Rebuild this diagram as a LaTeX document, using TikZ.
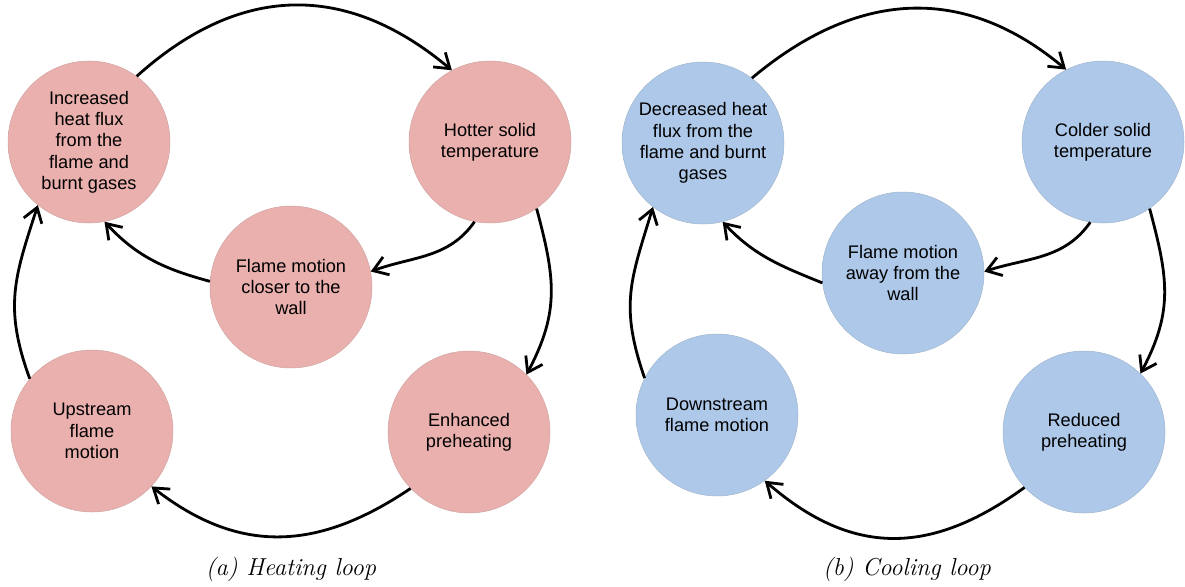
\documentclass[tikz,border=0pt]{standalone}
\usepackage{fontspec}
\newfontfamily\arialf{Liberation Sans}
\usetikzlibrary{arrows.meta}
\definecolor{pinkc}{RGB}{234,176,174}
\definecolor{bluec}{RGB}{173,200,232}
\colorlet{pinkedge}{pinkc!78!black}
\colorlet{blueedge}{bluec!78!black}
\pgfdeclareradialshading{pinkball}{\pgfpoint{0bp}{0bp}}{color(0bp)=(pinkc); color(42bp)=(pinkc); color(47.5bp)=(pinkc!93!black); color(50bp)=(pinkedge)}
\pgfdeclareradialshading{blueball}{\pgfpoint{0bp}{0bp}}{color(0bp)=(bluec); color(42bp)=(bluec); color(47.5bp)=(bluec!93!black); color(50bp)=(blueedge)}
\tikzset{
  bub/.style={circle, minimum size=162pt, inner sep=0pt, align=center,
    font=\arialf\fontsize{18.2}{21.3}\selectfont, line width=0.5pt},
  pinkbub/.style={bub, shading=pinkball, draw=pinkc!75!gray},
  bluebub/.style={bub, shading=blueball, draw=bluec!75!gray},
  conn/.style={line width=2.8pt, -{Straight Barb[length=14pt,width=19pt]}},
  captxt/.style={font=\fontsize{24.5}{29}\selectfont\itshape, inner sep=0pt}
}
\begin{document}
\begin{tikzpicture}[x=1pt,y=1pt]
\useasboundingbox (0,0) rectangle (1185,-586);
% (a) Heating loop
\node[pinkbub] (inc) at (89,-142) {Increased\\heat flux\\from the\\flame and\\burnt gases};
\node[pinkbub] (hot) at (490,-142) {Hotter solid\\temperature};
\node[pinkbub] (clo) at (291,-287) {Flame motion\\closer to the\\wall};
\node[pinkbub] (ups) at (92,-431) {Upstream\\flame\\motion};
\node[pinkbub] (enh) at (469,-432) {Enhanced\\preheating};
\draw[conn] (inc.54) to[out=42,in=140,looseness=1.12] (hot.118);
\draw[conn] (hot.-101) to[out=-125,in=20] (clo.11);
\draw[conn] (clo.176) to[out=165,in=-47] (inc.-79);
\draw[conn] (hot.-55) to[out=-75,in=62,looseness=1.1] (enh.45);
\draw[conn] (enh.-136) to[out=-146,in=-38,looseness=1.1] (ups.-43);
\draw[conn] (ups.140) to[out=110,in=-108,looseness=1.12] (inc.-129);
\node[captxt] (capa) at (291,-569) {(a) Heating loop};
% (b) Cooling loop
\node[bluebub] (dec) at (703,-143) {Decreased heat\\flux from the\\flame and burnt\\gases};
\node[bluebub] (col) at (1103,-142) {Colder solid\\temperature};
\node[bluebub] (awy) at (903,-273) {Flame motion\\away from the\\wall};
\node[bluebub] (dwn) at (717,-415) {Downstream\\flame motion};
\node[bluebub] (red) at (1084,-432) {Reduced\\preheating};
\draw[conn] (dec.53) to[out=40,in=140,looseness=1.1] (col.117);
\draw[conn] (col.-99) to[out=-125,in=18] (awy.1);
\draw[conn] (awy.-173) to[out=158,in=-47] (dec.-76);
\draw[conn] (col.-55) to[out=-75,in=62,looseness=1.1] (red.46);
\draw[conn] (red.-137) to[out=-144,in=-41,looseness=1.14] (dwn.-54);
\draw[conn] (dwn.153) to[out=109,in=-107,looseness=1.15] (dec.-128);
\node[captxt] (capb) at (907,-569) {(b) Cooling loop};
\end{tikzpicture}
\end{document}
